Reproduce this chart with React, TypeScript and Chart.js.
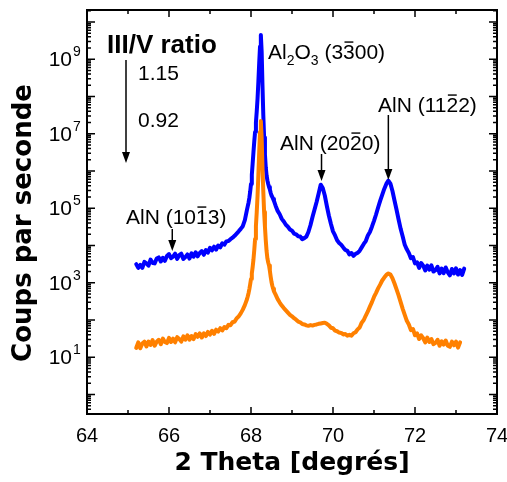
import React, { useEffect, useRef } from 'react';
import { Chart, registerables } from 'chart.js';

Chart.register(...registerables);

// 2-theta sampling positions (degrees)
const ANGLE = [
  65.2, 65.25, 65.3, 65.35, 65.4, 65.45, 65.5, 65.55, 65.6, 65.65,
  65.7, 65.75, 65.8, 65.85, 65.9, 65.95, 66.0, 66.05, 66.1, 66.15,
  66.2, 66.25, 66.3, 66.35, 66.4, 66.45, 66.5, 66.55, 66.6, 66.65,
  66.7, 66.75, 66.8, 66.85, 66.9, 66.95, 67.0, 67.05, 67.1, 67.15,
  67.2, 67.25, 67.3, 67.35, 67.4, 67.45, 67.5, 67.55, 67.6, 67.65,
  67.7, 67.75, 67.8, 67.85, 67.9,
  67.92, 67.94, 67.96, 67.98, 68.0, 68.02, 68.04, 68.06, 68.08, 68.1,
  68.12, 68.14, 68.16, 68.18, 68.2, 68.22, 68.24, 68.26, 68.28, 68.3,
  68.32, 68.34, 68.36, 68.38, 68.4, 68.42, 68.44, 68.46, 68.48, 68.5,
  68.52, 68.54, 68.56,
  68.6, 68.65, 68.7, 68.75, 68.8, 68.85, 68.9, 68.95, 69.0, 69.05,
  69.1, 69.15, 69.2, 69.25, 69.3, 69.35, 69.4, 69.45, 69.5, 69.55,
  69.6, 69.65, 69.7, 69.75, 69.8, 69.85, 69.9, 69.95, 70.0, 70.05,
  70.1, 70.15, 70.2, 70.25, 70.3, 70.35, 70.4, 70.45, 70.5, 70.55,
  70.6, 70.65, 70.7, 70.75, 70.8, 70.85, 70.9, 70.95, 71.0, 71.05,
  71.1, 71.15, 71.2, 71.25, 71.3, 71.35, 71.4, 71.45, 71.5, 71.55,
  71.6, 71.65, 71.7, 71.75, 71.8, 71.85, 71.9, 71.95, 72.0, 72.05,
  72.1, 72.15, 72.2, 72.25, 72.3, 72.35, 72.4, 72.45, 72.5, 72.55,
  72.6, 72.65, 72.7, 72.75, 72.8, 72.85, 72.9, 72.95, 73.0, 73.05,
  73.1, 73.15, 73.2,
];

// III/V ratio 1.15 (blue), counts per second
const COUNTS_115 = [
  3.16e3, 2.51e3, 3.02e3, 2.51e3, 3.63e3, 3.31e3, 2.88e3, 4.17e3, 3.39e3, 3.31e3,
  4.47e3, 4.79e3, 3.72e3, 4.68e3, 3.89e3, 5.25e3, 5.89e3, 4.57e3, 5.01e3, 6.03e3,
  4.37e3, 5.5e3, 6.03e3, 4.37e3, 4.9e3, 5.75e3, 4.47e3, 6.17e3, 5.01e3, 6.61e3,
  5.13e3, 6.31e3, 7.08e3, 5.62e3, 7.59e3, 6.46e3, 8.71e3, 7.41e3, 9.33e3, 7.76e3,
  1.0e4, 8.91e3, 1.15e4, 1.05e4, 1.29e4, 1.32e4, 1.48e4, 1.62e4, 1.82e4, 2.09e4,
  2.4e4, 2.8e4, 3.3e4, 4.8e4, 8.9e4,
  1.12e5, 1.41e5, 1.9e5, 2.8e5, 4.5e5, 7.9e5, 1.58e6, 3.2e6, 6.3e6, 1.12e7,
  2.0e7, 4.0e7, 8.9e7, 2.5e8, 7.9e8, 2.2e9, 4.5e9, 1.6e9, 2.0e8, 3.2e7,
  7.9e6, 2.8e6, 1.26e6, 7.6e5, 5.6e5, 4.5e5, 3.7e5, 3.2e5, 2.6e5, 2.2e5,
  2.0e5, 1.78e5, 1.58e5,
  1.17e5, 8.5e4, 6.9e4, 5.2e4, 4.4e4, 3.6e4, 3.2e4, 2.7e4, 2.5e4, 2.1e4,
  2.0e4, 1.78e4, 1.74e4, 1.48e4, 1.58e4, 1.74e4, 2.3e4, 3.5e4, 5.8e4, 9.3e4,
  1.48e5, 2.5e5, 4.3e5, 3.5e5, 2.2e5, 1.15e5, 6.3e4, 3.8e4, 2.4e4, 1.86e4,
  1.38e4, 1.17e4, 1.05e4, 8.9e3, 7.6e3, 7.2e3, 5.75e3, 6.3e3, 5.25e3, 6.0e3,
  6.3e3, 7.2e3, 8.9e3, 1.1e4, 1.32e4, 1.86e4, 2.3e4, 3.2e4, 4.6e4, 6.8e4,
  1.05e5, 1.58e5, 2.3e5, 3.3e5, 4.5e5, 5.5e5, 4.6e5, 2.9e5, 1.62e5, 9.1e4,
  5.0e4, 2.8e4, 1.74e4, 1.05e4, 7.9e3, 6.31e3, 4.57e3, 4.9e3, 3.31e3, 3.55e3,
  2.51e3, 3.39e3, 2.88e3, 2.14e3, 2.88e3, 2.24e3, 2.95e3, 2.0e3, 2.19e3, 2.69e3,
  1.78e3, 2.4e3, 1.82e3, 2.57e3, 1.91e3, 1.58e3, 2.34e3, 1.78e3, 2.45e3, 1.66e3,
  2.19e3, 1.62e3, 2.4e3,
];

// III/V ratio 0.92 (orange), counts per second (ends at 73.10)
const COUNTS_092 = [
  17.8, 25.1, 17.4, 23.4, 26.3, 19.5, 26.3, 21.4, 28.8, 20.4,
  26.3, 29.5, 22.4, 31.6, 25.7, 24.0, 33.1, 25.7, 31.6, 25.1,
  34.7, 30.9, 26.3, 36.3, 29.5, 38.9, 29.5, 37.2, 30.9, 41.7,
  35.5, 43.7, 33.9, 43.7, 37.2, 47.9, 40.7, 51.3, 42.7, 55.0,
  49.0, 60.3, 52.5, 64.6, 60.3, 74.1, 72.4, 87.1, 91.2, 110,
  126, 151, 190, 251, 355,
  427, 525, 676, 912, 1.26e3, 1.78e3, 2.63e3, 4.2e3, 7.6e3, 1.5e4,
  3.3e4, 7.9e4, 2.2e5, 7.9e5, 3.2e6, 1.12e7, 2.2e7, 7.9e6, 1.26e6, 2.8e5,
  7.9e4, 3.2e4, 1.4e4, 7.1e3, 4.5e3, 3.5e3, 2.9e3, 2.1e3, 1.45e3, 1.05e3,
  832, 692, 589,
  479, 363, 295, 245, 209, 182, 158, 138, 126, 112,
  102, 91, 87, 78, 76, 72, 70, 73, 71, 74,
  76, 79, 81, 83, 85, 79, 72, 62, 60, 52,
  50, 46, 45, 41, 42, 38, 40, 38, 44, 47,
  56, 63, 85, 100, 132, 170, 229, 302, 417, 537,
  708, 891, 1150, 1380, 1620, 1780, 1660, 1320, 955, 661,
  457, 302, 200, 138, 95, 75.9, 53.7, 57.5, 38.9, 43.7,
  30.9, 38.9, 32.4, 25.1, 33.9, 25.7, 30.9, 22.4, 24.5, 29.5,
  20.4, 26.9, 21.9, 28.2, 20.4, 19.1, 26.3, 20.9, 26.3, 18.2,
  25.1,
];

const SERIES_LABELS = ['1.15', '0.92'];
const X_MIN = 64;
const X_MAX = 74;
const X_STEP = 2;
const Y_MIN = 0.34;
const Y_MAX = 2.1e10;
const Y_LABEL_EXPONENTS = [1, 3, 5, 7, 9];
const Y_TITLE = 'Coups par seconde';
const X_TITLE = '2 Theta [degrés]';

// peak positions the arrows point at (degrees)
const PEAK_1013 = 66.08;
const PEAK_2020 = 69.72;
const PEAK_1122 = 71.35;

const SANS = '"Liberation Sans", Arial, Helvetica, sans-serif';
const TITLE_FONT = '"DejaVu Sans", Verdana, sans-serif';

type Part = { t: string; sub?: boolean; bar?: boolean };

function drawRich(ctx: CanvasRenderingContext2D, x: number, y: number, parts: Part[], size: number) {
  let cx = x;
  ctx.textAlign = 'left';
  ctx.textBaseline = 'alphabetic';
  for (const p of parts) {
    const fs = p.sub ? Math.round(size * 0.66) : size;
    ctx.font = `${fs}px ${SANS}`;
    const w = ctx.measureText(p.t).width;
    const by = p.sub ? y + size * 0.28 : y;
    ctx.fillText(p.t, cx, by);
    if (p.bar) {
      ctx.fillRect(cx + w * 0.12, y - size * 0.84, w * 0.76, 1.4);
    }
    cx += w;
  }
}

function downArrow(ctx: CanvasRenderingContext2D, x: number, y1: number, y2: number) {
  ctx.lineWidth = 1.5;
  ctx.beginPath();
  ctx.moveTo(x, y1);
  ctx.lineTo(x, y2 - 8);
  ctx.stroke();
  ctx.beginPath();
  ctx.moveTo(x - 4, y2 - 11);
  ctx.lineTo(x + 4, y2 - 11);
  ctx.lineTo(x, y2);
  ctx.closePath();
  ctx.fill();
}

const framePlugin = {
  id: 'framePlugin',
  afterDraw(chart: any) {
    const { ctx, chartArea: a, scales } = chart;
    const xs = scales.x;
    const ys = scales.y;
    ctx.save();
    ctx.strokeStyle = '#000';
    ctx.fillStyle = '#000';

    // ticks (inward, mirrored)
    ctx.lineWidth = 1.5;
    ctx.beginPath();
    for (let v = X_MIN; v <= X_MAX; v += 1) {
      const px = xs.getPixelForValue(v);
      const len = v % 2 === 0 ? 7 : 4;
      ctx.moveTo(px, a.bottom);
      ctx.lineTo(px, a.bottom - len);
      ctx.moveTo(px, a.top);
      ctx.lineTo(px, a.top + len);
    }
    for (let n = -1; n <= 10; n++) {
      for (let m = 1; m <= 9; m++) {
        const v = m * Math.pow(10, n);
        if (v < ys.min || v > ys.max) continue;
        const py = ys.getPixelForValue(v);
        const len = m === 1 ? 8 : 4;
        ctx.moveTo(a.left, py);
        ctx.lineTo(a.left + len, py);
        ctx.moveTo(a.right, py);
        ctx.lineTo(a.right - len, py);
      }
    }
    ctx.stroke();

    // frame
    ctx.lineWidth = 2;
    ctx.strokeRect(a.left, a.top, a.right - a.left, a.bottom - a.top);

    // y tick labels 10^n
    for (const n of Y_LABEL_EXPONENTS) {
      const py = ys.getPixelForValue(Math.pow(10, n));
      ctx.textBaseline = 'alphabetic';
      ctx.textAlign = 'right';
      ctx.font = `21px ${SANS}`;
      ctx.fillText('10', a.left - 15, py + 7);
      ctx.textAlign = 'left';
      ctx.font = `14px ${SANS}`;
      ctx.fillText(String(n), a.left - 14, py - 3);
    }

    // y axis title (slightly below the axis centre, as in the reference)
    ctx.save();
    ctx.translate(24, (a.top + a.bottom) / 2 + 11);
    ctx.rotate(-Math.PI / 2);
    ctx.textAlign = 'center';
    ctx.textBaseline = 'middle';
    ctx.font = `bold 26px ${TITLE_FONT}`;
    ctx.fillText(Y_TITLE, 0, 0);
    ctx.restore();

    // ratio annotation
    ctx.textAlign = 'left';
    ctx.textBaseline = 'alphabetic';
    ctx.font = `bold 26px ${SANS}`;
    ctx.fillText('III/V ratio', 107, 53);
    ctx.font = `21px ${SANS}`;
    ctx.fillText(SERIES_LABELS[0], 138, 80);
    ctx.fillText(SERIES_LABELS[1], 138, 127);
    downArrow(ctx, 126, 60, 163);

    // peak labels
    drawRich(ctx, 268, 59, [
      { t: 'Al' }, { t: '2', sub: true }, { t: 'O' }, { t: '3', sub: true },
      { t: ' (3' }, { t: '3', bar: true }, { t: '00)' },
    ], 21);
    drawRich(ctx, 378, 112, [{ t: 'AlN (11' }, { t: '2', bar: true }, { t: '2)' }], 21);
    downArrow(ctx, xs.getPixelForValue(PEAK_1122), 115, 180);
    drawRich(ctx, 280, 150, [{ t: 'AlN (20' }, { t: '2', bar: true }, { t: '0)' }], 21);
    downArrow(ctx, xs.getPixelForValue(PEAK_2020), 154, 181);
    drawRich(ctx, 126, 224, [{ t: 'AlN (10' }, { t: '1', bar: true }, { t: '3)' }], 21);
    downArrow(ctx, xs.getPixelForValue(PEAK_1013), 229, 251);

    ctx.restore();
  },
};

export default function App() {
  const ref = useRef<HTMLCanvasElement | null>(null);

  useEffect(() => {
    if (!ref.current) return;
    const blue = ANGLE.map((x, i) => ({ x, y: COUNTS_115[i] })).filter((p) => p.y !== undefined);
    const orange = ANGLE.map((x, i) => ({ x, y: COUNTS_092[i] })).filter((p) => p.y !== undefined);
    const chart = new Chart(ref.current, {
      type: 'line',
      data: {
        datasets: [
          {
            label: SERIES_LABELS[1],
            data: orange,
            borderColor: '#FF8000',
            borderWidth: 4,
            borderJoinStyle: 'round',
            borderCapStyle: 'round',
            pointRadius: 0,
            fill: false,
            tension: 0,
          },
          {
            label: SERIES_LABELS[0],
            data: blue,
            borderColor: '#0000FF',
            borderWidth: 4,
            borderJoinStyle: 'round',
            borderCapStyle: 'round',
            pointRadius: 0,
            fill: false,
            tension: 0,
          },
        ],
      },
      options: {
        animation: false,
        responsive: false,
        devicePixelRatio: 1,
        layout: { padding: { left: 0, top: 10, right: 10, bottom: 0 } },
        plugins: { legend: { display: false }, tooltip: { enabled: false } },
        scales: {
          x: {
            type: 'linear',
            min: X_MIN,
            max: X_MAX,
            grid: { display: false, drawTicks: false },
            border: { display: false },
            ticks: {
              stepSize: X_STEP,
              color: '#000',
              font: { family: SANS, size: 20 },
              padding: 10,
              maxRotation: 0,
              autoSkip: false,
            },
            title: {
              display: true,
              text: X_TITLE,
              color: '#000',
              font: { family: TITLE_FONT, size: 25, weight: 'bold' },
              padding: { top: 0, bottom: 4 },
            },
            afterFit: (s: any) => {
              s.height = 68;
              s.paddingLeft = 0;
              s.paddingRight = 0;
            },
          },
          y: {
            type: 'logarithmic',
            min: Y_MIN,
            max: Y_MAX,
            grid: { display: false, drawTicks: false },
            border: { display: false },
            ticks: { display: false },
            title: { display: false },
            afterFit: (s: any) => {
              s.width = 87;
              s.paddingTop = 0;
              s.paddingBottom = 0;
            },
          },
        },
      } as any,
      plugins: [framePlugin],
    });
    return () => chart.destroy();
  }, []);

  return (
    <div style={{ position: 'absolute', left: 0, top: 0, width: 507, height: 482, background: '#fff' }}>
      <canvas ref={ref} width={507} height={482} style={{ display: 'block' }} />
    </div>
  );
}
